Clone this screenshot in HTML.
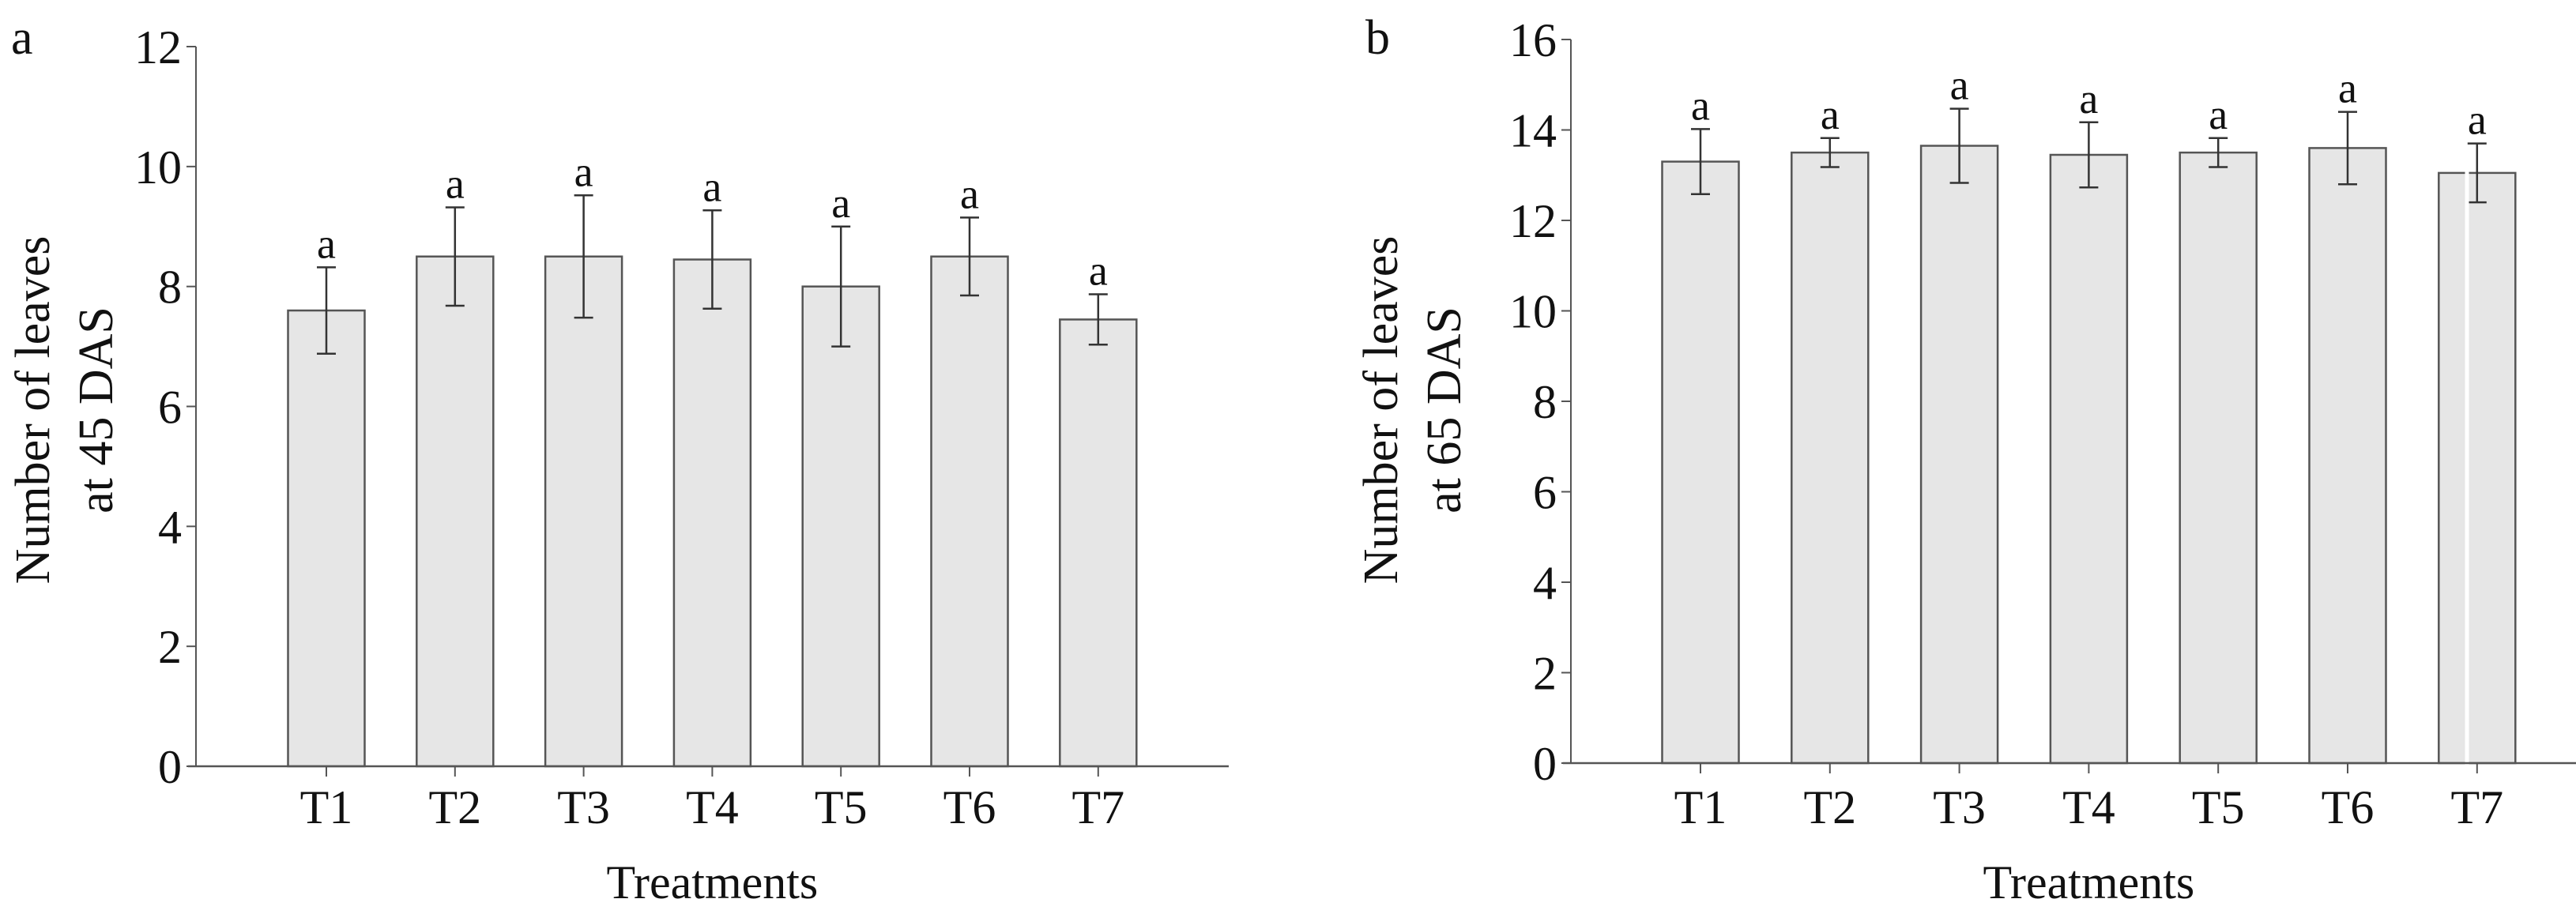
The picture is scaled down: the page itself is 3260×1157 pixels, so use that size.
<!DOCTYPE html>
<html><head><meta charset="utf-8"><style>
html,body{margin:0;padding:0;background:#fff}
svg{display:block}
text{font-family:"Liberation Serif",serif;fill:#111}
</style></head><body>
<svg id="chart" width="3260" height="1157" viewBox="0 0 3260 1157"></svg>
<script>
const categories=["T1","T2","T3","T4","T5","T6","T7"];
const valuesA=[7.6,8.5,8.5,8.45,8.0,8.5,7.45];
const errorsA=[0.72,0.82,1.02,0.82,1.0,0.65,0.42];
const valuesB=[13.3,13.5,13.65,13.45,13.5,13.6,13.05];
const errorsB=[0.72,0.32,0.82,0.72,0.32,0.8,0.65];
const ticksA=[0,2,4,6,8,10,12];
const ticksB=[0,2,4,6,8,10,12,14,16];
const sigA=["a","a","a","a","a","a","a"];
const sigB=["a","a","a","a","a","a","a"];
const NS="http://www.w3.org/2000/svg";
const svg=document.getElementById('chart');
function mk(tag,attrs,parent,txt){const e=document.createElementNS(NS,tag);for(const k in attrs)e.setAttribute(k,attrs[k]);if(txt!==undefined)e.textContent=txt;(parent||svg).appendChild(e);return e;}
function panel(p){
  const g=mk('g',{});
  
  
  const y=v=>p.y0-(v/p.max)*(p.y0-p.yTop);
  const x=i=>p.x1+i*p.step;
  const lab=mk('text',{x:p.lx,y:p.ly,'font-size':62},g,p.id);
  
  
  p.ticks.forEach(t=>{
    const tl=mk('line',{x1:p.ax-12,x2:p.ax,y1:y(t),y2:y(t),stroke:'#555','stroke-width':2},g);
    
    
    const tt=mk('text',{x:p.ax-18,y:y(t)+21,'font-size':60,'text-anchor':'end'},g,t);
    
    
  });
  p.vals.forEach((v,i)=>{
    const cx=x(i),w=97;
    const r=mk('rect',{x:cx-w/2,y:y(v),width:w,height:p.y0-y(v),fill:'#e6e6e6',stroke:'#555','stroke-width':2.5},g);
    
    
    const e=p.errs[i],hi=y(v+e),lo=y(v-e);
    const eb=mk('path',{d:`M${cx},${hi}V${lo}M${cx-12},${hi}H${cx+12}M${cx-12},${lo}H${cx+12}`,stroke:'#333','stroke-width':2.5,fill:'none'},g);
    
    
    const s=mk('text',{x:cx,y:hi-12,'font-size':54,'text-anchor':'middle'},g,p.sig[i]);
    
    
    const xt=mk('line',{x1:cx,x2:cx,y1:p.y0,y2:p.y0+13,stroke:'#555','stroke-width':2},g);
    
    
    const xl=mk('text',{x:cx,y:1042,'font-size':60,'text-anchor':'middle'},g,categories[i]);
    
    
  });
  if(p.gap){const gp=mk('line',{x1:p.gap,x2:p.gap,y1:y(p.vals[6])-5,y2:p.y0+20,stroke:'#fff','stroke-width':5},g);
    
    }
  const ya=mk('line',{x1:p.ax,x2:p.ax,y1:p.yTop,y2:p.y0,stroke:'#555','stroke-width':2},g);
  
  
  const xa=mk('line',{x1:p.ax-10,x2:p.axEnd,y1:p.y0,y2:p.y0,stroke:'#555','stroke-width':2.5},g);
  
  
  const xt=mk('text',{x:(p.x1+x(6))/2,y:1137,'font-size':60,'text-anchor':'middle'},g,'Treatments');
  
  
  const yt=mk('text',{transform:`translate(${p.tx},519) rotate(-90)`,'font-size':62,'text-anchor':'middle'},g);
  
  
  mk('tspan',{x:0,y:0},yt,'Number of leaves');
  mk('tspan',{x:0,y:80},yt,p.title2);
}
panel({id:'a',vals:valuesA,errs:errorsA,ticks:ticksA,sig:sigA,max:12,y0:970,yTop:59,ax:248,axEnd:1555,x1:413,step:162.8,lx:14,ly:68,tx:62,title2:'at 45 DAS'});
panel({id:'b',vals:valuesB,errs:errorsB,ticks:ticksB,sig:sigB,max:16,y0:966,yTop:50,ax:1988,axEnd:3260,x1:2152,step:163.8,lx:1728,ly:68,tx:1768,title2:'at 65 DAS',gap:3122});
</script>
</body></html>
